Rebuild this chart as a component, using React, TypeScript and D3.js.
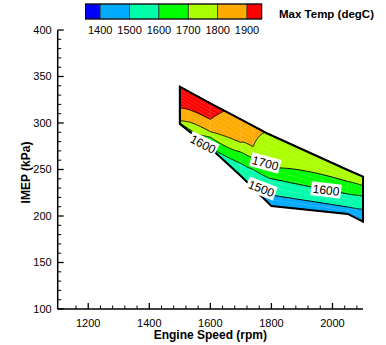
import React from "react";
import * as d3 from "d3";

// Mesh columns (engine speed / IMEP of the lower and upper edge of the tested region)
const speedTop = [1500, 1600, 1700, 1740, 1785, 2050, 2100];
const speedBottom = [1500, 1600, 1700, 1740, 1800, 2050, 2100];
const imepTop = [339, 321.2, 303.8, 296.8, 289, 249.5, 242.3];
const imepBottom = [299, 273, 243, 230, 210.8, 202.2, 194];

// Temperature profile along each column: IMEP (kPa) -> Max Temp (degC)
const profileImep = [
  [299, 300.3, 302.5, 315.8, 339],
  [273, 284.7, 290.6, 303.9, 321.2],
  [243, 256.6, 268.7, 279.1, 303.8],
  [230, 250.2, 262.2, 274.5, 296.8],
  [210.8, 222.6, 240.5, 251.6, 289],
  [202.2, 209.7, 223.7, 237.1, 249.5],
  [194, 207.2, 221.5, 232.6, 242.3],
];
const profileTemp = [
  [1640, 1700, 1800, 1900, 1970],
  [1595, 1700, 1800, 1900, 1935],
  [1505, 1600, 1700, 1800, 1860],
  [1495, 1600, 1700, 1800, 1830],
  [1435, 1500, 1600, 1700, 1795],
  [1450, 1500, 1600, 1700, 1770],
  [1420, 1500, 1600, 1700, 1760],
];

const levels = [1400, 1500, 1600, 1700, 1800, 1900];
const bandColors = ["#0000FF", "#00AAFF", "#00FFAA", "#00FF00", "#AAFF00", "#FFAA00", "#FF0000"];
const legendLabels = ["1400", "1500", "1600", "1700", "1800", "1900"];

// Contour labels: text, speed, IMEP, angle
const labelText = ["1600", "1700", "1500", "1600"];
const labelSpeed = [1576, 1780, 1767, 1979];
const labelImep = [277.4, 257, 229.6, 228];
const labelAngle = [27, 15, 21, 7];

const xMajor = [1200, 1400, 1600, 1800, 2000];
const yMajor = [100, 150, 200, 250, 300, 350, 400];

const FONT = "'Liberation Sans', Arial, Helvetica, sans-serif";

export default function App() {
  const W = 386, H = 345;
  const x = d3.scaleLinear().domain([1100, 2100]).range([57.7, 363]);
  const y = d3.scaleLinear().domain([100, 400]).range([309, 30]);

  const nCol = speedTop.length;
  const K = 30;
  const NY = 161;
  const nx = (nCol - 1) * K + 1;

  const colTemp = (c: number, t: number): number => {
    const imep = imepBottom[c] + t * (imepTop[c] - imepBottom[c]);
    const xs = profileImep[c], ts = profileTemp[c];
    for (let i = 0; i < xs.length - 1; i++) {
      if (imep <= xs[i + 1] || i === xs.length - 2) {
        const f = (imep - xs[i]) / (xs[i + 1] - xs[i]);
        return ts[i] + f * (ts[i + 1] - ts[i]);
      }
    }
    return ts[ts.length - 1];
  };

  const values: number[] = new Array(nx * NY);
  for (let j = 0; j < NY; j++) {
    const t = j / (NY - 1);
    for (let i = 0; i < nx; i++) {
      const u = i / K;
      const c = Math.min(Math.floor(u), nCol - 2);
      const f = u - c;
      values[j * nx + i] = (1 - f) * colTemp(c, t) + f * colTemp(c + 1, t);
    }
  }

  const toPx = (u: number, t: number): [number, number] => {
    const c = Math.min(Math.floor(u), nCol - 2);
    const f = u - c;
    const bx = speedBottom[c] + f * (speedBottom[c + 1] - speedBottom[c]);
    const by = imepBottom[c] + f * (imepBottom[c + 1] - imepBottom[c]);
    const tx = speedTop[c] + f * (speedTop[c + 1] - speedTop[c]);
    const ty = imepTop[c] + f * (imepTop[c + 1] - imepTop[c]);
    return [x(bx + t * (tx - bx)), y(by + t * (ty - by))];
  };

  const contours = d3.contours().size([nx, NY]).thresholds(levels)(values);
  const mapRing = (ring: number[][]) =>
    ring.map(([gx, gy]) => {
      const iu = Math.max(0, Math.min(nx - 1, gx - 0.5));
      const jt = Math.max(0, Math.min(NY - 1, gy - 0.5));
      return toPx(iu / K, jt / (NY - 1));
    });
  const pathFor = (mp: any) =>
    mp.coordinates
      .map((poly: number[][][]) =>
        poly.map((ring) => "M" + mapRing(ring).map((p) => p[0].toFixed(2) + "," + p[1].toFixed(2)).join("L") + "Z").join("")
      )
      .join("");

  const boundaryPts: [number, number][] = [];
  for (let c = 0; c < nCol; c++) boundaryPts.push([x(speedBottom[c]), y(imepBottom[c])]);
  for (let c = nCol - 1; c >= 0; c--) boundaryPts.push([x(speedTop[c]), y(imepTop[c])]);
  const boundaryPath = "M" + boundaryPts.map((p) => p.join(",")).join("L") + "Z";

  // faint mesh lines
  const meshLines: string[] = [];
  for (let c = 0; c < nCol; c++) {
    const a = toPx(c, 0), b = toPx(c, 1);
    meshLines.push(`M${a[0]},${a[1]}L${b[0]},${b[1]}`);
  }
  for (let r = 1; r < 12; r++) {
    const t = r / 12;
    const pts = d3.range(0, nCol).map((c) => toPx(c, t));
    meshLines.push("M" + pts.map((p) => p.join(",")).join("L"));
  }

  const xMinor = d3.range(1160, 2100, 40).filter((v) => !xMajor.includes(v));
  const yMinor = d3.range(110, 400, 10).filter((v) => !yMajor.includes(v));

  const lx = d3.scaleLinear().domain([1350, 1950]).range([85.5, 261.7]);
  const legendEdges = [1350, ...levels, 1950];

  const x0 = x(1100), yb = y(100);

  return (
    <svg width={W} height={H} style={{ position: "absolute", left: 0, top: 0, background: "#fff" }} fontFamily={FONT}>
      {/* filled bands */}
      <path d={boundaryPath} fill={bandColors[0]} />
      {contours.map((c: any, i: number) => (
        <path key={"f" + i} d={pathFor(c)} fill={bandColors[i + 1]} stroke="none" />
      ))}
      <path d={meshLines.join("")} fill="none" stroke="#fff" strokeOpacity={0.22} strokeWidth={0.7} />
      {contours.map((c: any, i: number) => (
        <path key={"l" + i} d={pathFor(c)} fill="none" stroke="#000" strokeWidth={1} />
      ))}
      <path d={boundaryPath} fill="none" stroke="#000" strokeWidth={2} strokeLinejoin="miter" />

      {/* contour labels */}
      {labelText.map((t, i) => (
        <g key={"lab" + i} transform={`translate(${x(labelSpeed[i])},${y(labelImep[i])}) rotate(${labelAngle[i]})`}>
          <rect x={-15} y={-7} width={30} height={14} fill="#fff" />
          <text textAnchor="middle" dy="0.36em" fontSize={12} fill="#000">{t}</text>
        </g>
      ))}

      {/* axes */}
      <line x1={x0} x2={x0} y1={y(400)} y2={yb} stroke="#000" strokeWidth={1.5} />
      <line x1={x0} x2={x(2100)} y1={yb} y2={yb} stroke="#000" strokeWidth={1.5} />
      {yMajor.map((v) => (
        <g key={"ym" + v}>
          <line x1={x0} x2={x0 + 6} y1={y(v)} y2={y(v)} stroke="#000" strokeWidth={1.3} />
          <text x={x0 - 6} y={y(v)} dy="0.35em" textAnchor="end" fontSize={11}>{v}</text>
        </g>
      ))}
      {yMinor.map((v) => (
        <line key={"yn" + v} x1={x0} x2={x0 + 3.5} y1={y(v)} y2={y(v)} stroke="#000" strokeWidth={1} />
      ))}
      {xMajor.map((v) => (
        <g key={"xm" + v}>
          <line x1={x(v)} x2={x(v)} y1={yb} y2={yb - 6} stroke="#000" strokeWidth={1.3} />
          <text x={x(v)} y={yb + 18} textAnchor="middle" fontSize={11}>{v}</text>
        </g>
      ))}
      {xMinor.map((v) => (
        <line key={"xn" + v} x1={x(v)} x2={x(v)} y1={yb} y2={yb - 3.5} stroke="#000" strokeWidth={1} />
      ))}
      <text x={(x0 + x(2100)) / 2} y={339} textAnchor="middle" fontSize={12} fontWeight="bold">Engine Speed (rpm)</text>
      <text transform={`translate(30,${(y(400) + yb) / 2 + 3}) rotate(-90)`} textAnchor="middle" fontSize={12} fontWeight="bold">IMEP (kPa)</text>

      {/* legend */}
      {bandColors.map((col, i) => (
        <rect key={"lg" + i} x={lx(legendEdges[i])} y={4} width={lx(legendEdges[i + 1]) - lx(legendEdges[i])} height={15} fill={col} stroke="#333" strokeWidth={0.8} />
      ))}
      <rect x={lx(1350)} y={4} width={lx(1950) - lx(1350)} height={15} fill="none" stroke="#000" strokeWidth={1} />
      {legendLabels.map((t, i) => (
        <text key={"ll" + i} x={lx(levels[i])} y={33.5} textAnchor="middle" fontSize={11}>{t}</text>
      ))}
      <text x={279} y={18} fontSize={11.5} fontWeight="bold">Max Temp (degC)</text>
    </svg>
  );
}
